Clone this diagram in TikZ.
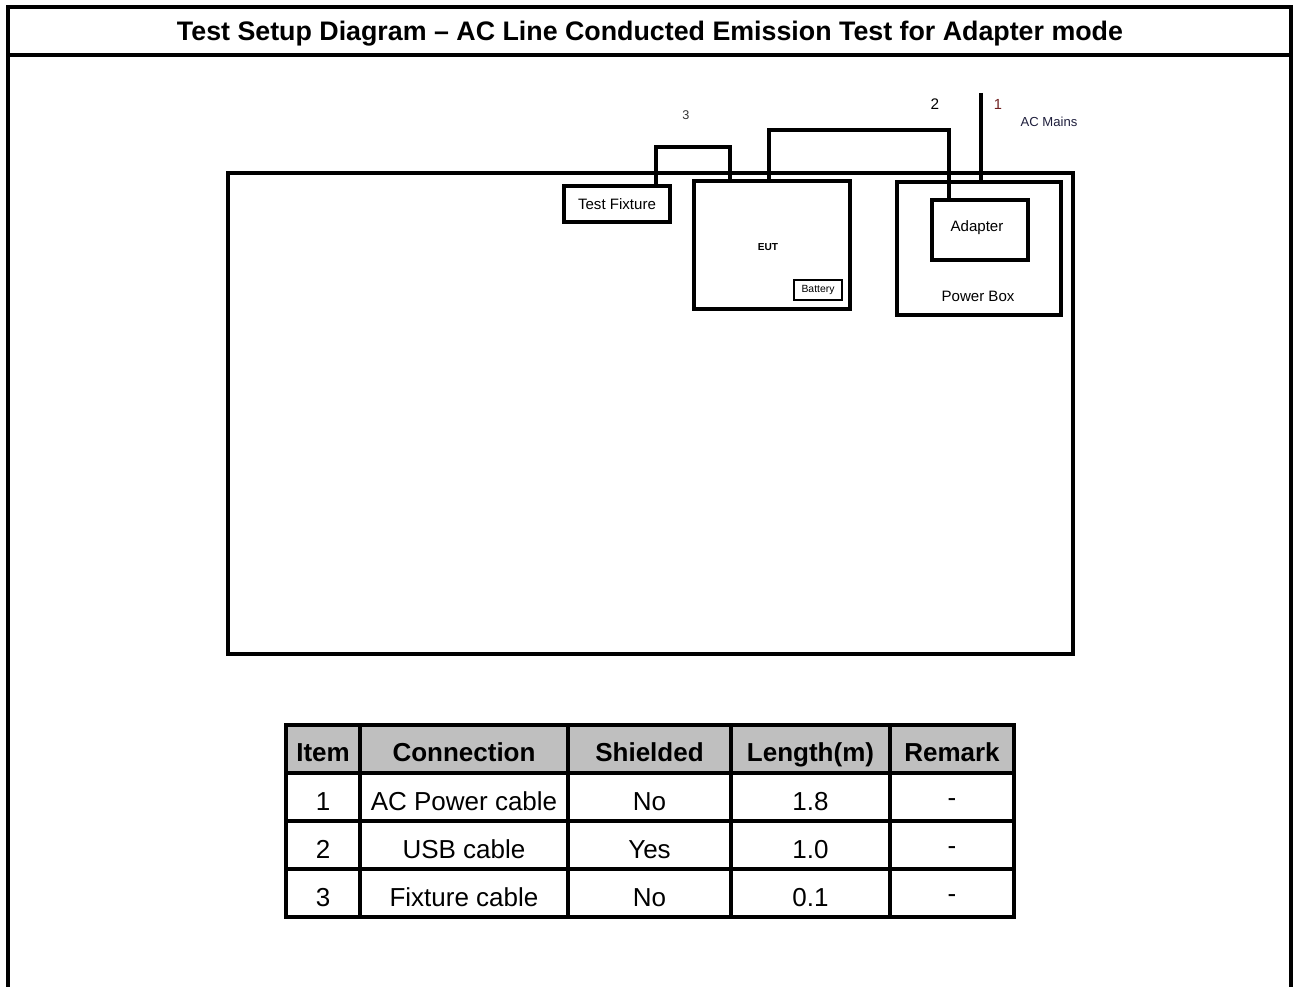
\documentclass[tikz,border=0pt]{standalone}
\usepackage{fontspec}
\setmainfont{Liberation Sans}
\begin{document}
\begin{tikzpicture}[x=0.75pt,y=-0.75pt,
  frame/.style={line width=2.4pt},
  boxx/.style={draw,line width=2.3pt,rectangle,inner sep=0pt,outer sep=0pt},
  cable/.style={line width=2.6pt},
  lbl/.style={inner sep=0pt},
  hdr/.style={font=\fontsize{19.5}{22}\selectfont\bfseries,inner sep=0pt,anchor=base},
  cell/.style={font=\fontsize{19.5}{22}\selectfont,inner sep=0pt,anchor=base},
  grid/.style={line width=2.3pt}
]
\useasboundingbox (0,0) rectangle (1293,987);
% outer frame
\draw[frame] (8,990) -- (8,7) -- (1291,7) -- (1291,990);
\draw[frame] (8,55) -- (1291,55);
\node[lbl,anchor=base,font=\fontsize{20.1}{24}\selectfont\bfseries] (title) at (650,40.5) {Test Setup Diagram -- AC Line Conducted Emission Test for Adapter mode};
% bench
\node[boxx,minimum width=845*0.75pt,minimum height=481*0.75pt] (bench) at (650.5,413.5) {};
% boxes
\node[boxx,minimum width=106*0.75pt,minimum height=36*0.75pt,font=\fontsize{11.3}{13}\selectfont] (fix) at (617,204) {Test Fixture};
\node[boxx,minimum width=156*0.75pt,minimum height=128*0.75pt] (eut) at (772,245) {};
\node[lbl,font=\fontsize{7.6}{9}\selectfont\bfseries] (eutl) at (768,247) {EUT};
\node[boxx,line width=2pt,minimum width=48*0.75pt,minimum height=20*0.75pt,font=\fontsize{7.8}{9}\selectfont] (bat) at (818,290) {Battery};
\node[boxx,minimum width=164*0.75pt,minimum height=133*0.75pt] (pbox) at (979,248.5) {};
\node[lbl,font=\fontsize{11.3}{13}\selectfont] (pboxl) at (978,296) {Power Box};
\node[boxx,minimum width=96*0.75pt,minimum height=60*0.75pt] (adp) at (980,230) {};
\node[lbl,font=\fontsize{11.3}{13}\selectfont] (adpl) at (977,228) {Adapter};
% cables
\coordinate (mains) at (981,93);
\draw[cable,line width=2.9pt] (656,0 |- fix.north) -- (656,147) -- (730,147) -- (730,0 |- eut.north);
\draw[cable] (769,0 |- eut.north) -- (769,130) -- (949,130) -- (949,0 |- adp.north);
\draw[cable] (mains) -- (981,0 |- pbox.north);
% labels
\node[lbl,font=\fontsize{9.5}{11}\selectfont,text=black!80] (l3) at (686,115) {3};
\node[lbl,font=\fontsize{11.5}{13}\selectfont] (l2) at (935,104) {2};
\node[lbl,font=\fontsize{11}{13}\selectfont,text={rgb,255:red,110;green,30;blue,30}] (l1) at (998,104) {1};
\node[lbl,font=\fontsize{9.8}{11}\selectfont,text={rgb,255:red,30;green,30;blue,60}] (acm) at (1049,122) {AC Mains};
% table
\fill[black!25] (286,725) rectangle (1014,773);
\draw[grid] (286,725) rectangle (1014,917);
\foreach \y in {773,821,869} \draw[grid] (286,\y) -- (1014,\y);
\foreach \x in {360,568,731,890} \draw[grid] (\x,725) -- (\x,917);
\node[hdr] (h1) at (323,761) {Item};
\node[hdr] (h2) at (464,761) {Connection};
\node[hdr] (h3) at (649.5,761) {Shielded};
\node[hdr] (h4) at (810.5,761) {Length(m)};
\node[hdr] (h5) at (952,761) {Remark};
\node[cell] (a1) at (323,810) {1};
\node[cell] (a2) at (464,810) {AC Power cable};
\node[cell] (a3) at (649.5,810) {No};
\node[cell] (a4) at (810.5,810) {1.8};
\node[cell] (a5) at (952,806) {-};
\node[cell] (b1) at (323,858) {2};
\node[cell] (b2) at (464,858) {USB cable};
\node[cell] (b3) at (649.5,858) {Yes};
\node[cell] (b4) at (810.5,858) {1.0};
\node[cell] (b5) at (952,854) {-};
\node[cell] (c1) at (323,906) {3};
\node[cell] (c2) at (464,906) {Fixture cable};
\node[cell] (c3) at (649.5,906) {No};
\node[cell] (c4) at (810.5,906) {0.1};
\node[cell] (c5) at (952,902) {-};
\end{tikzpicture}
\end{document}
